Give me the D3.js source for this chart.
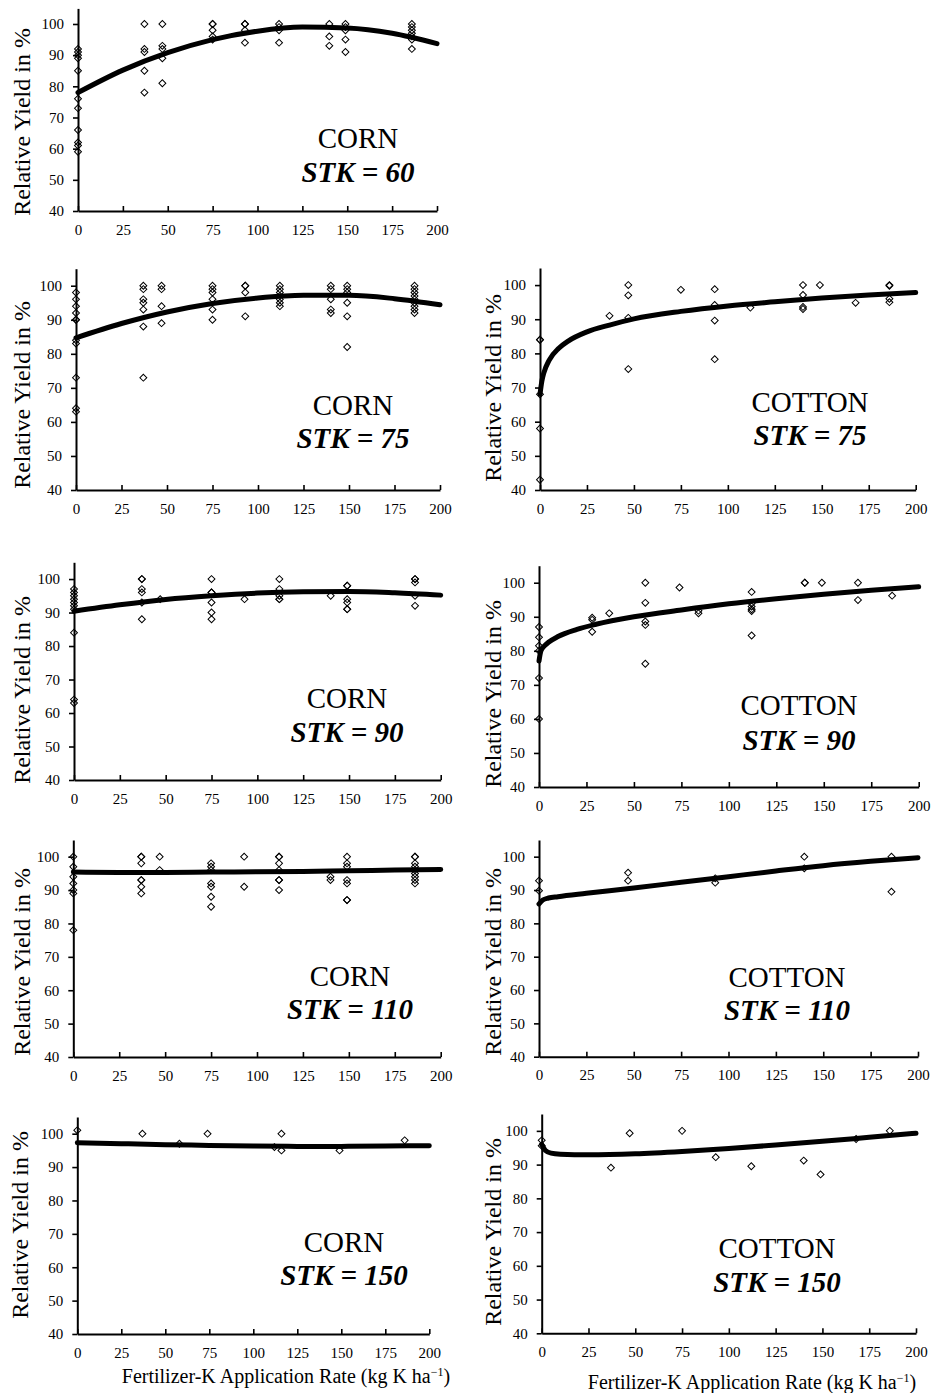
<!DOCTYPE html>
<html lang="en">
<head>
    <meta charset="UTF-8">
    <title>Relative yield vs fertilizer-K rate</title>
    <script src="https://d3js.org/d3.v7.min.js"></script>
    <style>
        body { margin: 0; background: #fff; }
        svg { display: block; }
        text { font-family: "Liberation Serif", "Times New Roman", serif; fill: #000; }
        .axis .domain { stroke: #000; stroke-width: 2; }
        .axis .tick line { stroke: #000; stroke-width: 1.6; }
        .axis .tick text { font-size: 15px; }
        .pt { fill: none; stroke: #000; stroke-width: 1; }
        .fit { fill: none; stroke: #000; stroke-width: 5; stroke-linecap: round; stroke-linejoin: round; }
        .crop { font-size: 29px; }
        .stk { font-size: 29px; font-weight: bold; font-style: italic; }
        .ytitle { font-size: 24px; }
        .xtitle { font-size: 20px; }
    </style>
</head>
<body>
<svg id="chart" width="932" height="1393"></svg>
<script>
    // tick labels shared by every panel
    const xTicks = [0, 25, 50, 75, 100, 125, 150, 175, 200];
    const yTicks = [40, 50, 60, 70, 80, 90, 100];

    const corn60Points = [
        [0, 92], [0, 91], [0, 90], [0, 89], [0, 85], [0, 76], [0, 73], [0, 66], [0, 62], [0, 61], [0, 59],
        [37, 100], [37, 92], [37, 91], [37, 85], [37, 78],
        [47, 100], [47, 93], [47, 92], [47, 89], [47, 81],
        [75, 100], [75, 100], [75, 98], [75, 96], [75, 95],
        [93, 100], [93, 100], [93, 98], [93, 94],
        [112, 100], [112, 99], [112, 98], [112, 94],
        [140, 100], [140, 96], [140, 93],
        [149, 100], [149, 99], [149, 98], [149, 95], [149, 91],
        [186, 100], [186, 99], [186, 98], [186, 97], [186, 96], [186, 95], [186, 92]
    ];
    const corn75Points = [
        [0, 98], [0, 96], [0, 94], [0, 92], [0, 90], [0, 90], [0, 84], [0, 83], [0, 73], [0, 64], [0, 63],
        [37, 100], [37, 99], [37, 96], [37, 95], [37, 93], [37, 88], [37, 73],
        [47, 100], [47, 99], [47, 94], [47, 89],
        [75, 100], [75, 99], [75, 98], [75, 96], [75, 93], [75, 90],
        [93, 100], [93, 100], [93, 98], [93, 91],
        [112, 100], [112, 99], [112, 98], [112, 97], [112, 96], [112, 95], [112, 94],
        [140, 100], [140, 99], [140, 96], [140, 93], [140, 92],
        [149, 100], [149, 99], [149, 98], [149, 95], [149, 91], [149, 82],
        [186, 100], [186, 99], [186, 98], [186, 97], [186, 96], [186, 95], [186, 94], [186, 93], [186, 92]
    ];
    const cotton75Points = [
        [0, 84], [0, 84], [0, 68], [0, 58], [0, 43],
        [37, 91],
        [47, 100], [47, 97], [47, 90.4], [47, 75.4],
        [75, 98.6],
        [93, 98.8], [93, 94.2], [93, 89.6], [93, 78.3],
        [112, 93.4],
        [140, 100], [140, 97.1], [140, 93.6], [140, 93],
        [149, 100],
        [168, 94.8],
        [186, 100], [186, 99.8], [186, 96], [186, 95]
    ];
    const corn90Points = [
        [0, 97], [0, 96], [0, 95], [0, 94], [0, 93], [0, 92], [0, 91], [0, 84], [0, 64], [0, 63],
        [37, 100], [37, 100], [37, 97], [37, 96], [37, 93], [37, 88],
        [47, 94],
        [75, 100], [75, 96], [75, 96], [75, 93], [75, 90], [75, 88],
        [93, 94],
        [112, 100], [112, 97], [112, 95], [112, 94], [112, 94],
        [140, 95],
        [149, 98], [149, 98], [149, 94], [149, 93], [149, 91], [149, 91],
        [186, 100], [186, 100], [186, 99], [186, 95], [186, 92]
    ];
    const cotton90Points = [
        [0, 87], [0, 84], [0, 81.5], [0, 80], [0, 72], [0, 60],
        [28, 89.7], [28, 89.1], [28, 85.6],
        [37, 91],
        [56, 100], [56, 94.1], [56, 88.6], [56, 87.6], [56, 76.2],
        [74, 98.6],
        [84, 91.8], [84, 91],
        [112, 97.3], [112, 93.9], [112, 93], [112, 92.2], [112, 91.7], [112, 84.5],
        [140, 100], [140, 100],
        [149, 100],
        [168, 100], [168, 94.9],
        [186, 96.2]
    ];
    const corn110Points = [
        [0, 100], [0, 97], [0, 94], [0, 92], [0, 90], [0, 89], [0, 78],
        [37, 100], [37, 100], [37, 98], [37, 93], [37, 93], [37, 91], [37, 89],
        [47, 100], [47, 96],
        [75, 98], [75, 97], [75, 96], [75, 92], [75, 91], [75, 88], [75, 85],
        [93, 100], [93, 91],
        [112, 100], [112, 100], [112, 98], [112, 96], [112, 93], [112, 93], [112, 90],
        [140, 94], [140, 93],
        [149, 100], [149, 98], [149, 97], [149, 93], [149, 92], [149, 87], [149, 87],
        [186, 100], [186, 100], [186, 98], [186, 97], [186, 96], [186, 95], [186, 94], [186, 93], [186, 92]
    ];
    const cotton110Points = [
        [0, 92.8], [0, 89.8],
        [47, 95.2], [47, 92.8],
        [93, 93.5], [93, 92.2],
        [140, 100], [140, 96.5],
        [186, 100], [186, 89.5]
    ];
    const corn150Points = [
        [0, 101], [37, 100], [58, 97], [74, 100], [112, 96], [116, 100], [116, 95], [149, 95], [186, 98]
    ];
    const cotton150Points = [
        [0, 97.2], [0, 95.6], [37, 89.1], [47, 99.3], [75, 100], [93, 92.2],
        [112, 89.5], [140, 91.2], [149, 87.1], [168, 97.6], [186, 100]
    ];

    // fitted response curves
    const corn60Fit = [[0, 78], [25, 85.2], [50, 90.8], [75, 95.0], [100, 97.7], [125, 99.0], [150, 98.7], [175, 97.0], [200, 93.7]];
    const corn75Fit = [[0, 84.7], [25, 88.9], [50, 92.3], [75, 94.8], [100, 96.4], [125, 97.2], [150, 97.2], [175, 96.2], [200, 94.4]];
    const cotton75Fit = [[0, 68], [1, 71.9], [2, 74.2], [5, 78.1], [10, 81.5], [15, 83.6], [25, 86.3], [37, 88.3], [50, 90.1],
        [75, 92.3], [100, 93.9], [125, 95.1], [150, 96.2], [175, 97.1], [200, 97.8]];
    const corn90Fit = [[0, 90.4], [25, 92.3], [50, 93.9], [75, 95.0], [100, 95.8], [125, 96.2], [150, 96.3], [175, 95.9], [200, 95.2]];
    const cotton90Fit = [[0, 77], [1, 80], [3, 81.5], [5, 82.5], [10, 84.2], [20, 86.3], [30, 87.8], [50, 90.0],
        [75, 92.0], [100, 93.8], [125, 95.3], [150, 96.6], [175, 97.8], [200, 98.8]];
    const corn110Fit = [[0, 95.4], [25, 95.3], [50, 95.3], [75, 95.4], [100, 95.5], [125, 95.6], [150, 95.8], [175, 96.0], [200, 96.2]];
    const cotton110Fit = [[0, 85.8], [2, 87], [5, 87.6], [10, 88.0], [25, 89.0], [50, 90.6], [75, 92.3], [100, 94.0],
        [125, 95.7], [150, 97.3], [175, 98.6], [200, 99.7]];
    const corn150Fit = [[0, 97.3], [25, 97.0], [50, 96.7], [75, 96.5], [100, 96.3], [125, 96.2], [150, 96.2], [175, 96.3], [200, 96.4]];
    const cotton150Fit = [[0, 96], [2, 94.2], [5, 93.4], [10, 93.1], [25, 92.9], [50, 93.2], [75, 93.9], [100, 94.8],
        [125, 95.8], [150, 96.9], [175, 98.1], [200, 99.3]];

    // panel layout (pixels): plot box, label anchor, y title position
    const panels = [
        { crop: "CORN", stk: "60", pts: corn60Points, fit: corn60Fit,
          x0: 78, x1: 437, yTop: 8.4, yBot: 211, lx: 358, ly1: 148, ly2: 182, tx: 30, ty: 122 },
        { crop: "CORN", stk: "75", pts: corn75Points, fit: corn75Fit,
          x0: 76, x1: 440, yTop: 268.7, yBot: 490, lx: 353, ly1: 415, ly2: 448, tx: 30, ty: 395 },
        { crop: "COTTON", stk: "75", pts: cotton75Points, fit: cotton75Fit,
          x0: 540, x1: 915.7, yTop: 268, yBot: 490, lx: 810, ly1: 412, ly2: 445, tx: 501, ty: 388 },
        { crop: "CORN", stk: "90", pts: corn90Points, fit: corn90Fit,
          x0: 74, x1: 440.7, yTop: 562.3, yBot: 780, lx: 347, ly1: 708, ly2: 742, tx: 30, ty: 690 },
        { crop: "COTTON", stk: "90", pts: cotton90Points, fit: cotton90Fit,
          x0: 539, x1: 918.7, yTop: 565.7, yBot: 787, lx: 799, ly1: 715, ly2: 750, tx: 501, ty: 694 },
        { crop: "CORN", stk: "110", pts: corn110Points, fit: corn110Fit,
          x0: 73.3, x1: 440.7, yTop: 840, yBot: 1057, lx: 350, ly1: 986, ly2: 1019, tx: 30, ty: 962 },
        { crop: "COTTON", stk: "110", pts: cotton110Points, fit: cotton110Fit,
          x0: 539, x1: 918, yTop: 840, yBot: 1056.7, lx: 787, ly1: 987, ly2: 1020, tx: 501, ty: 962 },
        { crop: "CORN", stk: "150", pts: corn150Points, fit: corn150Fit,
          x0: 77.3, x1: 429.3, yTop: 1117, yBot: 1334, lx: 344, ly1: 1252, ly2: 1285, tx: 28, ty: 1225 },
        { crop: "COTTON", stk: "150", pts: cotton150Points, fit: cotton150Fit,
          x0: 541.7, x1: 916, yTop: 1114, yBot: 1333.3, lx: 777, ly1: 1258, ly2: 1292, tx: 501, ty: 1232 }
    ];

    const FONT = '"Liberation Serif", "Times New Roman", serif';
    const svg = d3.select("#chart");
    svg.append("rect").attr("width", 932).attr("height", 1393).attr("fill", "#fff");

    const diamond = d3.symbol().type(d3.symbolSquare).size(24);

    panels.forEach(p => {
        const x = d3.scaleLinear().domain([0, 200]).range([p.x0, p.x1]);
        const y = d3.scaleLinear().domain([40, 105]).range([p.yBot, p.yTop]);
        const g = svg.append("g");

        // x axis: ticks point up into the plot
        g.append("g")
            .attr("class", "axis")
            .attr("transform", `translate(0,${p.yBot})`)
            .call(d3.axisBottom(x).tickValues(xTicks).tickSizeInner(-5).tickSizeOuter(0).tickPadding(13))
            .attr("font-family", FONT);

        g.append("g")
            .attr("class", "axis")
            .attr("transform", `translate(${p.x0},0)`)
            .call(d3.axisLeft(y).tickValues(yTicks).tickSizeInner(5).tickSizeOuter(0).tickPadding(9))
            .attr("font-family", FONT);

        g.append("text")
            .attr("class", "ytitle")
            .attr("transform", `translate(${p.tx},${p.ty}) rotate(-90)`)
            .attr("text-anchor", "middle")
            .text("Relative Yield in %");

        g.selectAll(".pt")
            .data(p.pts)
            .join("path")
            .attr("class", "pt")
            .attr("d", diamond)
            .attr("transform", d => `translate(${x(d[0])},${y(d[1])}) rotate(45)`);

        const line = d3.line()
            .x(d => x(d[0]))
            .y(d => y(d[1]))
            .curve(d3.curveMonotoneX);

        g.append("path")
            .attr("class", "fit")
            .attr("d", line(p.fit));

        g.append("text")
            .attr("class", "crop")
            .attr("x", p.lx).attr("y", p.ly1)
            .attr("text-anchor", "middle")
            .text(p.crop);

        g.append("text")
            .attr("class", "stk")
            .attr("x", p.lx).attr("y", p.ly2)
            .attr("text-anchor", "middle")
            .text("STK = " + p.stk);
    });

    // shared x titles under the bottom row
    [[286, 1383], [752, 1389]].forEach(([cx, by]) => {
        const t = svg.append("text")
            .attr("class", "xtitle")
            .attr("x", cx).attr("y", by)
            .attr("text-anchor", "middle");
        t.append("tspan").text("Fertilizer-K Application Rate (kg K ha");
        t.append("tspan").attr("dy", -7).style("font-size", "12px").text("\u22121");
        t.append("tspan").attr("dy", 7).text(")");
    });
</script>
</body>
</html>
